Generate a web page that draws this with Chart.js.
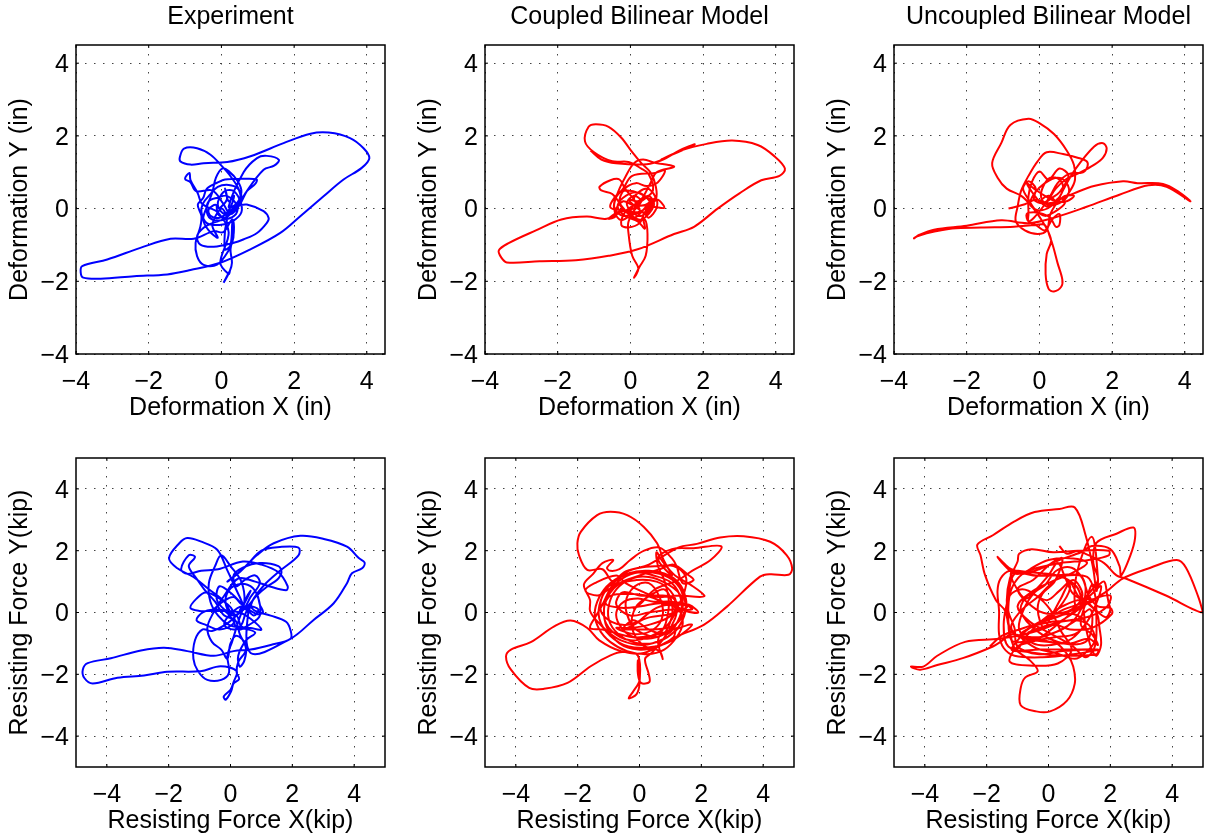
<!DOCTYPE html>
<html>
<head>
<meta charset="utf-8">
<title>Hysteresis panels</title>
<script src="https://cdn.jsdelivr.net/npm/chart.js@4"></script>
<style>
  html, body { margin: 0; padding: 0; background: #fff; overflow: hidden; }
  #wrap { position: relative; width: 1205px; height: 836px; overflow: hidden; }
  canvas { position: absolute; }
</style>
</head>
<body>
<div id="wrap"></div>
<script>
// [x, y] in axis units
var expDefPath = [[-.05,0],[.15,.25],[.1,.55],[.2,.2],[.35,.35],[.2,-.05],[-.05,-.25],[-.3,-.2],[-.35,-.02],[-.15,.1],[-.1,-.15],[.1,-.25],[.3,0],[.45,.15],[.4,-.15],[.1,-.3],[-.25,-.3],[-.4,-.1],[-.35,.2],[-.1,.3],[.15,.35],[.4,.1],[.1,-.15],[-.1,.1],[.05,.45],[.3,.5],[.5,.25],[.55,-.1],[.3,-.35],[-.05,-.45],[-.4,-.4],[-.55,-.1],[-.5,.15],[-.3,.4],[-.1,.6],[.2,.65],[.45,.55],[.55,.3],[.4,.1],[.7,.11],[1.16,-.07],[1.3,-.26],[1.25,-.39],[.98,-.67],[.6,-.85],[.34,-.94],[-.21,-1.05],[-.58,-.99],[-.67,-.76],[-.49,-.53],[-.25,-.4],[.05,-.3],[.3,-.1],[.5,.15],[.7,.48],[.93,.68],[.97,.8],[.6,.82],[.1,.8],[-.1,.72],[-.4,.55],[-.5,.3],[-.65,.1],[-.55,-.2],[-.58,-.5],[-.71,-.94],[-.67,-1.31],[-.49,-1.55],[-.12,-1.54],[.2,-1.15],[.33,-.8],[.3,-.4],[.25,-1],[.1,-1.12],[.1,-.6],[.15,-.25],[0,0],[-.25,-.45],[-.1,-.8],[-.35,-.6],[-.5,-.3],[-.4,.05],[-.25,.45],[-.15,.85],[.02,1.1],[.2,1.03],[.45,.75],[.55,.45],[.4,.12],[.2,.05],[.61,1],[.98,1.39],[1.25,1.45],[1.58,1.34],[1.45,1.18],[1.16,1.07],[.7,.48],[.5,.1],[.25,-.15],[.04,.15],[-.25,.5],[-.7,.48],[-.85,.72],[-1,.82],[-.88,.98],[-.85,.78],[-.65,.42],[-.55,.15],[-.4,.05],[-.1,-.1],[.2,-.65],[-.03,-1.49],[.2,-1.8],[.23,-1.72],[.06,-2.04],[.23,-1.72],[.29,-1.49],[.25,-1.12],[.34,-.67],[.3,-.3],[.05,-.65],[-.21,-.62],[-.76,-.83],[-1.4,-.83],[-2.23,-1.08],[-3.14,-1.4],[-3.83,-1.58],[-3.87,-1.76],[-3.8,-1.9],[-3.32,-1.93],[-2.4,-1.86],[-1.49,-1.81],[-.85,-1.69],[-.03,-1.49],[.8,-1.12],[1.62,-.67],[2.17,-.21],[2.81,.34],[3.36,.8],[3.86,1.12],[4.07,1.39],[3.91,1.66],[3.54,1.94],[2.95,2.09],[2.45,2.06],[1.71,1.8],[.8,1.44],[.16,1.28],[-.49,1.25],[-.85,1.21],[-1.13,1.3],[-1.14,1.43],[-1.03,1.65],[-.67,1.66],[-.3,1.48],[.02,1.16],[.25,.89],[.48,.52],[.52,.16],[.3,-.05]];

var coupledDefPath = [[.1,0],[.3,.2],[.1,.35],[-.1,.15],[.05,-.1],[.3,-.2],[.55,.05],[.45,.3],[.15,.45],[-.2,.3],[-.35,.05],[-.15,-.2],[.2,-.35],[.4,-.55],[.35,-.2],[.55,.1],[.7,.3],[.4,.1],[.1,.08],[-.15,-.1],[-.25,-.45],[-.05,-.52],[.25,-.4],[.4,-.1],[.72,.25],[.93,.02],[.55,.05],[.2,-.1],[-.1,-.05],[-.55,.03],[-.35,.4],[-.1,.5],[.25,.42],[.55,.2],[.4,.02],[.1,-.25],[-.2,.02],[-.5,.4],[-.8,.5],[-.85,.6],[-.55,.78],[-.3,.8],[-.15,.55],[.1,.25],[.25,0],[.1,.3],[.45,.55],[.7,.3],[.72,.02],[.5,-.25],[.35,-.1],[.1,-.15],[-.2,-.2],[-.4,-.05],[-.2,.2],[.1,.1],[.35,.3],[.6,.2],[.45,-.15],[.15,.05],[-.05,.25],[.2,.2],[.5,.35],[.65,.1],[.3,-.3],[-.05,-.15],[-.3,.15],[-.15,.55],[.15,.7],[.45,.62],[.75,.72],[.95,1.05],[.68,.98],[.05,.9],[-.2,.55],[-.4,.3],[-.45,0],[-.3,-.3],[-.1,-.25],[.05,.05],[.3,.25],[.55,.7],[.72,1],[1.2,1.15],[1.05,1.2],[.7,1.25],[.35,1.35],[.1,1.25],[-.15,.85],[-.3,.55],[-.45,.1],[-.4,-.2],[-.6,-.28],[-.35,-.1],[.08,0],[.3,.2],[.62,.5],[.5,.95],[.3,1.1],[-.05,1.28],[-.5,1.3],[-1,1.55],[-1.25,1.85],[-1.15,2.25],[-.95,2.32],[-.6,2.25],[-.25,1.95],[.05,1.55],[.3,1.25],[.55,1],[.7,.6],[.7,.25],[.5,.1],[.2,.05],[-.05,-.35],[-.05,-.7],[.05,-1.3],[.22,-1.65],[.1,-1.9],[.24,-1.62],[.42,-1.3],[.47,-.7],[.4,-.3],[.2,-.35],[-.1,-.05],[-.65,-.28],[-1.2,-.22],[-1.9,-.3],[-2.6,-.6],[-3.35,-.95],[-3.62,-1.15],[-3.55,-1.35],[-3.4,-1.48],[-2.5,-1.45],[-1.5,-1.42],[-.6,-1.3],[.2,-1.12],[1.2,-.7],[1.75,-.5],[2.4,0],[3,.42],[3.6,.78],[4.1,.9],[4.25,1.1],[3.95,1.45],[3.5,1.75],[2.8,1.87],[2.1,1.78],[1.4,1.6],[.85,1.35],[1.3,1.55],[1.77,1.77],[1.35,1.6],[.9,1.35],[.45,1.22],[-.4,1.25],[-.8,1.35],[-1.1,1.6]];

var uncoupledDefPath = [[-.85,0],[-.4,.12],[-.1,.25],[.2,.15],[.5,.2],[.7,.35],[.95,.35],[.75,.2],[.45,.2],[.15,.35],[-.15,.55],[-.35,.7],[-.2,.45],[0,.2],[.25,.05],[.5,.25],[.65,.55],[.55,.8],[.3,.85],[.1,.6],[.05,.3],[.25,.1],[.55,.15],[.8,.4],[.75,.7],[.5,.85],[.15,.7],[-.15,.4],[-.25,.1],[0,-.05],[.3,.05],[.55,.3],[.7,.15],[.4,-.1],[.15,-.2],[-.1,-.05],[-.3,.25],[-.45,.55],[-.3,.75],[-.1,.55],[-.15,.25],[.1,.15],[.35,.3],[.55,.45],[.8,.9],[.55,1.1],[.25,.8],[0,1.02],[-.2,.75],[-.3,.35],[-.3,-.15],[-.3,-.35],[-.1,-.45],[.15,-.6],[.35,-.3],[.55,-.15],[.55,-.45],[.45,-.5],[.3,-.25],[.1,-.15],[-.15,-.1],[-.35,-.15],[-.3,-.35],[-.15,-.25],[.1,.05],[.3,.35],[.5,.7],[.8,.95],[1.2,1],[1.32,1.15],[1.3,1.3],[1.05,1.4],[.65,1.5],[.2,1.55],[-.05,1.3],[-.3,.9],[-.5,.5],[-.6,.05],[-.65,-.35],[-.4,-.6],[-.05,-.7],[.2,-.6],[.3,-.15],[.5,.2],[.7,.6],[1,1.1],[1.5,1.7],[1.75,1.8],[1.85,1.65],[1.75,1.4],[1.5,1.2],[1.1,.98],[.75,.82],[.45,.55],[.2,.2],[0,.18],[.25,.35],[.55,.15],[.85,.5],[.98,.8],[.95,1.2],[.75,1.6],[.4,2.05],[0,2.35],[-.3,2.47],[-.8,2.3],[-1.05,1.8],[-1.3,1.25],[-1.15,.85],[-.9,.55],[-.5,.35],[-.2,.05],[.05,-.3],[.25,-.65],[.32,-.9],[.2,-1.25],[.17,-1.8],[.25,-2.2],[.4,-2.28],[.6,-2.15],[.63,-1.95],[.5,-1.5],[.38,-1.05],[.28,-.75],[.15,-.45],[-.1,-.45],[-.7,-.5],[-1.6,-.52],[-2.4,-.55],[-3.1,-.68],[-3.4,-.78],[-3.45,-.82],[-3.3,-.72],[-2.9,-.58],[-2,-.47],[-1.05,-.32],[-.3,-.4],[.4,-.25],[1.3,.05],[2.2,.38],[3,.64],[3.5,.6],[4.15,.2],[3.85,.45],[3.4,.68],[2.7,.7],[2.3,.75],[1.5,.62],[.95,.42],[.55,.25],[.3,.1],[.1,.2]];

var expForcePath = [[-.55,.1],[-.25,.35],[.1,.5],[.4,.25],[.55,.55],[.65,.7],[.45,.3],[.3,.05],[.6,.2],[.9,.1],[.75,-.1],[.4,.2],[0,-.05],[-.2,-.4],[.1,-.55],[.35,-.4],[.5,0],[.85,.55],[.95,.25],[1.05,0],[.85,-.05],[.45,.2],[.05,.6],[-.35,.85],[-.45,.45],[-.2,.1],[.2,-.1],[.35,-.45],[.65,-.5],[1,-.55],[.65,-.2],[.3,0],[-.1,.05],[-.65,.05],[-1,.05],[-1.3,.15],[-1.1,.45],[-.8,.65],[-.35,.45],[.05,.1],[.1,-.35],[-.35,-.55],[-.8,-.4],[-1.1,-.25],[-.9,0],[-.55,.1],[-.2,.05],[.05,-.2],[.25,-.55],[.6,-.4],[.95,-.1],[.85,.6],[.55,.9],[.1,.85],[-.15,.5],[-.1,.1],[.1,-.1],[.45,.15],[.65,.5],[.95,.95],[.8,1.2],[.45,1.05],[.2,.85],[.1,1.2],[.4,1.45],[.95,1.6],[1.55,1.5],[1.65,1.3],[1.5,1.05],[1.2,.85],[.85,.55],[.6,.25],[.25,-.05],[-.1,-.35],[-.6,-.6],[-.9,-.55],[-1.15,-.9],[-1.2,-1.5],[-1.05,-1.9],[-.75,-2.18],[-.3,-2.18],[-.05,-1.95],[-.1,-1.4],[.05,-.95],[.25,-.3],[.45,.35],[.35,1],[0,1.5],[-.3,1.85],[-.5,1.5],[-.7,.95],[-.65,.35],[-.4,-.1],[-.05,-.4],[.35,-.5],[.8,-.65],[.5,-.9],[.25,-1.4],[.3,-1.75],[.45,-1.55],[.5,-1.05],[.2,-.75],[0,-1],[-.1,-1.5],[-.3,-1.2],[-.6,-.95],[-.75,-.5],[-.55,0],[-.2,.55],[.25,1.1],[.8,1],[1.25,.85],[1.8,.72],[1.85,.85],[1.55,1.3],[1,1.55],[.4,1.65],[-.4,1.4],[-.95,1.35],[-1.4,1.25],[-1.6,1.4],[-1.35,1.85],[-1.15,1.8],[-1.35,1.5],[-1.1,1.1],[-.85,.75],[-.5,.35],[-.2,-.1],[.15,-.25],[.3,-.7],[.5,-1.2],[.25,-1.6],[.2,-1.95],[.28,-2.15],[.1,-2.3],[.02,-2.55],[-.15,-2.82],[-.22,-2.72],[0,-2.5],[.1,-2.25],[.2,-1.9],[-.32,-1.74],[-.97,-1.9],[-2.05,-1.92],[-2.8,-2.04],[-3.66,-2.11],[-4.46,-2.3],[-4.73,-2.12],[-4.78,-1.85],[-4.62,-1.64],[-3.87,-1.48],[-2.9,-1.23],[-2.15,-1.14],[-1.4,-1.25],[-.54,-1.4],[.1,-1.25],[.65,-1.2],[1.3,-1.05],[1.94,-.85],[1.95,-.6],[1.8,-.3],[1.3,-.1],[.8,.05],[.6,.2],[.65,-1.31],[1.94,-.85],[2.69,-.24],[3.34,.3],[3.77,.95],[3.93,1.27],[4.26,1.43],[4.34,1.62],[4.15,1.76],[3.77,2.13],[3.02,2.38],[2.26,2.48],[1.4,2.24],[.86,1.86],[.32,1.33],[-.1,1],[.5,1.5],[1,2],[1.6,2.12],[2.2,2.1],[2.2,1.85],[1.6,1.35],[1.1,.9],[.75,.45],[.55,.05],[.3,.5],[-.11,1.38],[-.43,2.03],[-.97,2.3],[-1.4,2.41],[-1.65,2.25],[-1.99,1.76],[-1.72,1.43],[-1.2,1.15],[-.7,.75],[-.2,.35],[0,0]];

var coupledForcePath = [[-.55,-.55],[.9,-.5],[1.35,-.2],[1.5,.3],[1.35,.85],[.95,1.2],[.3,1.35],[-.4,1.25],[-.95,.95],[-1.3,.5],[-1.45,-.05],[-1.3,-.55],[-.95,-.95],[-.4,-1.25],[.25,-1.35],[.8,-1.2],[1.2,-.8],[1.4,-.35],[1.25,.1],[.7,.3],[.05,.2],[-.6,.15],[-1.1,.3],[-.7,.9],[-.1,1.05],[.55,1],[1,.7],[1.2,.2],[.95,-.35],[.4,-.75],[-.3,-.9],[-.9,-.6],[-1.15,-.1],[-1,.5],[-.5,.6],[.2,.55],[.9,.3],[1.55,.2],[1,-.05],[.35,-.15],[-.4,-.4],[-.9,-.3],[-1.25,.05],[-1.15,.65],[-.75,1.05],[-.2,1.3],[.45,1.2],[1.05,.95],[1.35,.4],[1.3,-.15],[.9,-.7],[.3,-.55],[-.2,-.25],[-.55,-.55],[-.1,-.35],[.2,-.1],[.55,.15],[1,.25],[1.5,.05],[1.9,0],[1.6,.25],[1,.35],[.45,.35],[-.05,.45],[-.5,.35],[-.75,0],[-.65,-.4],[-.3,-.75],[.25,-.85],[.8,-.7],[1.2,-.35],[1.4,.15],[1.3,.6],[.85,.95],[.3,1.15],[-.25,1.1],[-.75,.75],[-1,.2],[-.95,-.35],[-.55,-.8],[0,-1],[.6,-.95],[1.15,-.6],[1.45,-.1],[1.5,.45],[1.2,.95],[.65,1.25],[0,1.3],[-.55,1.1],[-1,.65],[-1.15,.1],[-1.05,-.5],[-.65,-1],[-.05,-1.2],[.6,-1.1],[1.1,-.8],[1.2,-.55],[1.7,-.4],[1.15,-.85],[.5,-1.1],[-.35,-1.1],[-.95,-.75],[-1.3,-.2],[-1.25,.4],[-.9,.95],[-.4,1.25],[.25,1.35],[.85,1.2],[1.3,.8],[1.5,.3],[1.7,.1],[1.05,.1],[.3,0],[-.3,-.1],[-.75,.25],[-.55,.65],[0,.55],[.6,.55],[1.05,.5],[1.2,.2],[.95,-.15],[.3,-.4],[-.3,-.5],[-.75,-.5],[-.15,-.7],[.45,-.55],[.75,-.1],[.65,.5],[.3,.95],[-.15,.85],[-.45,.3],[-.25,-.4],[.15,-.7],[.7,-.75],[1,-.3],[1.05,.3],[.8,.75],[.35,.55],[-.1,.2],[-.25,-.45],[.1,-1.05],[.65,-1.25],[.75,-1.5],[.6,-.9],[.85,-.35],[.95,.35],[.8,1.05],[.6,1.5],[.55,1.95],[.75,1.65],[1.15,1.2],[1.65,.9],[2.1,.55],[1.95,.5],[1.3,.55],[.6,.5],[.15,.65],[-.45,.95],[-.75,1.2],[-1.45,.95],[-1.75,.7],[-1.35,.55],[-1,.75],[-.55,1],[0,1.2],[.65,1.4],[1.1,1.55],[1.6,1.2],[1.75,1.05],[1.4,.95],[1.2,1.5],[1.05,1.75],[.65,2.1],[.15,2],[-.3,1.7],[-.65,1.4],[-.95,1.35],[-1.05,1.45],[-.85,1.7],[-1.2,1.6],[-1.5,1.25],[-1.8,.9],[-1.6,.4],[-1.6,.05],[-1.4,-.25],[-1.05,-.6],[-.6,-.9],[.1,-1.05],[.8,-.85],[1.25,-.5],[.95,-.6],[.4,-.75],[-.2,-.8],[-1.2,-.55],[-1.6,-.5],[-1.4,-.1],[-1.2,.25],[-.9,.85],[-.5,1.3],[0,1.45],[.5,1.5],[1.1,1.5],[1.5,1.15],[1.45,.65],[1.25,.2],[1.15,-.2],[.85,-.75],[.4,-1.3],[.18,-1.5],[.3,-2],[.32,-2.25],[.05,-2.28],[-.05,-2],[-.05,-1.55],[0,-2.2],[-.2,-2.55],[-.35,-2.78],[-.1,-2.65],[0,-2.3],[-.05,-1.4],[-.55,-1.28],[-.94,-1.39],[-1.58,-1.74],[-2.33,-2.28],[-3.09,-2.47],[-3.57,-2.44],[-4.16,-1.85],[-4.32,-1.42],[-4.16,-1.2],[-3.52,-.96],[-2.76,-.45],[-2.23,-.26],[-1.69,-.5],[-1.3,-.9],[-.6,-1.25],[.14,-1.31],[1.22,-.77],[2.08,-.4],[2.83,.19],[3.9,1.16],[4.23,1.24],[4.82,1.22],[4.94,1.43],[4.76,1.86],[4.23,2.29],[3.37,2.47],[2.61,2.43],[1.86,2.22],[1.25,2.1],[.3,1.55],[-.35,1.35],[-.85,1],[-1.2,1.4],[-1.69,1.38],[-1.96,1.86],[-2.01,2.24],[-1.9,2.61],[-1.37,3.15],[-.94,3.26],[-.4,3.15],[.14,2.77],[.57,2.24],[.78,1.7],[1.05,1.2],[.6,1.75],[1.05,2.05],[1.75,2.08],[2.65,2.14],[2.3,1.7],[1.7,1.35],[1.25,1.05],[.5,.75],[.05,.3],[-.2,.1]];

var uncoupledForcePath = [[-1.9,-1.1],[-1.5,-.75],[-.8,-.5],[-.2,-.3],[.4,-.1],[1,.2],[1.5,.45],[2,.55],[1.9,.2],[1.4,-.1],[.7,-.25],[.1,-.3],[-.6,-.5],[-1,-.9],[-1.2,-1.2],[-1,-1.25],[-.3,-1.2],[.6,-1.2],[1.6,-1.22],[1.55,-1.35],[.5,-1.4],[-.5,-1.3],[-1.3,-1.1],[-1.45,-.4],[-1.3,.5],[-1.1,1.25],[-.4,1.2],[.4,1.2],[1.25,1.15],[1.5,.6],[1.55,-.2],[1.5,-1.1],[1.2,-1.45],[.8,-1.1],[.1,-.7],[-.6,-.3],[-1,.2],[-.5,.7],[.1,1],[.8,1.3],[1.25,1.6],[.8,1.75],[0,1.7],[-.6,1.4],[-1,1.1],[-1.25,.6],[-1.3,-.2],[-1.2,-.9],[-.8,-.95],[.2,-.8],[.85,-.7],[1.2,-.35],[.8,-.05],[.2,-.15],[-.3,-.35],[-.9,-.7],[-.3,-.8],[.3,-.6],[.9,-.25],[1.35,.1],[1.4,-.5],[1.2,-.95],[.5,-1],[-.3,-.65],[-.9,.05],[-.6,.6],[-.05,.4],[.35,.7],[.8,1.05],[1.1,.55],[.75,.1],[.1,-.05],[-.4,.1],[-1,.75],[-.5,1.05],[.1,1.6],[.45,1.75],[.2,1],[-.2,.6],[-.35,.1],[-.15,-.5],[.1,-.1],[.4,.45],[.7,.95],[1,.5],[1.5,.4],[1.05,.2],[.4,-.3],[-.4,-.9],[-1,-1.1],[-1.25,-1.6],[-.5,-1.72],[.3,-1.65],[.75,-1.2],[.4,-.6],[.05,.1],[-.4,.55],[-.85,.75],[-1.25,.55],[-1.3,.05],[-1.1,-.5],[-1,-1.1],[-.3,-1.35],[.45,-1.25],[1.6,-1.2],[.8,-1.35],[-.2,-1.45],[-1.1,-1.4],[-1.45,-1.15],[-1.6,-.7],[-1.6,.05],[-1.65,.7],[-1.55,1.1],[-1.25,1.35],[-.6,1.3],[.3,1.2],[.9,.85],[1.1,.3],[1.2,-.45],[1.4,-1.2],[1.55,-1.4],[1.7,-1.05],[1.65,-.5],[1.55,0],[1.1,.4],[.45,.2],[-.2,-.25],[-.7,-.75],[-1.05,-1.2],[-1.25,-.6],[-1.35,.4],[-1.25,1.1],[-1,1.65],[-.95,1.9],[-.55,2.05],[.15,1.95],[.95,2],[1.95,2],[1.95,1.85],[1.3,1.7],[.4,1.6],[-.35,1.45],[-1.05,1.25],[-1.45,1.55],[-1.65,1.8],[-1.45,1.6],[-1.2,1.4],[-.5,1.2],[.2,1.2],[1,1.2],[1.2,.8],[1.05,.1],[.6,-.45],[-.1,-.75],[-.7,-.85],[-1.1,-.7],[-1.2,-.4],[-.85,.1],[-.35,.5],[.05,.9],[.45,1.15],[.7,.8],[.3,.1],[-.1,-.2],[-.55,-.45],[-.1,-.25],[.5,.1],[1.05,.3],[1.4,.6],[1.7,.85],[1.55,.3],[1.25,-.3],[.75,-.85],[.1,-1.05],[-.5,-1],[-.95,-.55],[-.8,.1],[-.45,.65],[-.1,.9],[.25,1.35],[.75,1.45],[1.1,1.1],[1.3,.55],[1.6,.2],[2,.15],[2.05,-.05],[1.4,-.5],[.7,-.55],[.2,-.4],[-.65,-.65],[-.15,-.45],[.75,-.25],[1.3,-.4],[1.5,-.9],[1.2,-1.3],[.85,-1.5],[.2,-1.3],[-.4,-1.15],[-.95,-.75],[-.7,-.85],[-.05,-.95],[.7,-1],[1.3,-.85],[1.6,-1.05],[1.4,-.7],[1.05,-.4],[1.2,.3],[1.4,.9],[1.55,.85],[1.8,1],[1.9,.55],[1.95,.3],[2,.1],[1.85,-.15],[1.5,.1],[1.2,.35],[.8,.6],[.55,1.1],[.3,1.6],[0,1.2],[-.4,.75],[-.75,.45],[-1.15,1],[-1.2,1.3],[-.8,1.25],[-.3,1.4],[.35,1.7],[1.05,1.95],[1.4,2.15],[2,2.05],[2.3,1.5],[2.35,1.2],[2.65,1.85],[2.8,2.4],[2.75,2.75],[2.2,2.55],[1.55,2.25],[1.45,1.6],[1.6,1.05],[1.25,.55],[.9,.1],[.9,1.2],[1.4,2.45],[1.6,1.1],[1.55,.7],[1.45,1.4],[1.2,2.5],[.85,3.4],[.35,3.35],[-.45,3.25],[-1.1,2.95],[-1.8,2.5],[-2.3,2.2],[-2.2,1.85],[-2.05,1.2],[-1.7,.4],[-1.4,.05],[-1.3,-.4],[-1.1,-1.15],[-.6,-1.55],[-.35,-1.9],[-.75,-2.1],[-.9,-2.45],[-.9,-3],[-.4,-3.2],[.05,-3.2],[.6,-2.85],[.85,-2.3],[.8,-1.75],[.6,-1.35],[.25,-1],[-.6,-.85],[-1.2,-.7],[-1.55,-.95],[-1.8,-1.1],[-2.75,-1.47],[-3.6,-1.7],[-4.15,-1.85],[-4.45,-1.75],[-4.05,-1.75],[-3.6,-1.4],[-2.7,-.95],[-1.6,-.85],[-.55,-.65],[.35,-.3],[1.35,.35],[1.9,.7],[2.4,1.1],[3.3,1.45],[4.15,1.7],[4.45,1.45],[4.85,.5],[5,0],[3.8,.55],[2.5,1.1],[2.2,1.2],[1.8,1.6],[1.2,1.9],[.95,2],[.6,1.9],[.35,2.15]];

var defTicks = [-4, -2, 0, 2, 4];
var forceTicks = [-4, -2, 0, 2, 4];

var columnTitles = ["Experiment", "Coupled Bilinear Model", "Uncoupled Bilinear Model"];
var columnLeft = [0, 409, 818];

// MATLAB style box round the axes, with the small inward ticks
var boxPlugin = {
  id: "box",
  afterDraw: function (chart) {
    var ctx = chart.ctx, a = chart.chartArea;
    ctx.save();
    ctx.strokeStyle = "#000";
    ctx.lineWidth = 1.5;
    ctx.strokeRect(a.left, a.top, a.right - a.left, a.bottom - a.top);
    ctx.lineWidth = 1;
    ctx.beginPath();
    chart.scales.x.ticks.forEach(function (t) {
      var px = chart.scales.x.getPixelForValue(t.value);
      ctx.moveTo(px, a.bottom); ctx.lineTo(px, a.bottom - 3);
      ctx.moveTo(px, a.top); ctx.lineTo(px, a.top + 3);
    });
    chart.scales.y.ticks.forEach(function (t) {
      var py = chart.scales.y.getPixelForValue(t.value);
      ctx.moveTo(a.left, py); ctx.lineTo(a.left + 3, py);
      ctx.moveTo(a.right, py); ctx.lineTo(a.right - 3, py);
    });
    ctx.stroke();
    ctx.restore();
  }
};

function tickText(v) {
  return v < 0 ? "\u2212" + Math.abs(v) : "" + v;
}

function axis(min, max, tickValues, label, isY) {
  return {
    type: "linear",
    min: min,
    max: max,
    afterBuildTicks: function (scale) {
      scale.ticks = tickValues.map(function (v) { return { value: v }; });
    },
    afterFit: function (scale) {
      if (isY) { scale.width = 76; } else { scale.height = 69; }
    },
    border: { display: false, dash: [1.5, 7.5] },
    grid: { color: "#444", lineWidth: 1, drawTicks: false },
    ticks: {
      autoSkip: false,
      maxRotation: 0,
      padding: isY ? 7 : 13,
      labelOffset: isY ? 2 : 0,
      color: "#000",
      font: { family: "Liberation Sans", size: 25 },
      callback: tickText
    },
    title: {
      display: true,
      text: label,
      color: "#000",
      font: { family: "Liberation Sans", size: 25 },
      padding: isY ? { top: 5 } : { bottom: 0 }
    }
  };
}

function addPanel(col, top, path, color, xRange, yRange, ticks, xLabel, yLabel, heading) {
  var canvas = document.createElement("canvas");
  canvas.width = 390;
  canvas.height = 423.5;
  canvas.style.left = columnLeft[col] + "px";
  canvas.style.top = top + "px";
  document.getElementById("wrap").appendChild(canvas);

  new Chart(canvas.getContext("2d"), {
    type: "scatter",
    data: {
      datasets: [{
        data: path.map(function (p) { return { x: p[0], y: p[1] }; }),
        showLine: true,
        borderColor: color,
        borderWidth: 2,
        pointRadius: 0,
        tension: 0.35
      }]
    },
    options: {
      responsive: false,
      animation: false,
      devicePixelRatio: 1,
      layout: { autoPadding: false, padding: { top: heading ? 0 : 45, right: 5, left: 0, bottom: 0 } },
      plugins: {
        legend: { display: false },
        tooltip: { enabled: false },
        title: {
          display: !!heading,
          text: heading,
          fullSize: false,
          color: "#000",
          font: { family: "Liberation Sans", size: 25, weight: "normal" },
          padding: { top: 2.5, bottom: 12.5 }
        }
      },
      scales: {
        x: axis(xRange[0], xRange[1], ticks, xLabel, false),
        y: axis(yRange[0], yRange[1], ticks, yLabel, true)
      }
    },
    plugins: [boxPlugin]
  });
}

var defX = "Deformation X (in)", defY = "Deformation Y (in)";
var forceX = "Resisting Force X(kip)", forceY = "Resisting Force Y(kip)";

addPanel(0, 0, expDefPath, "#0000ff", [-4, 4.5], [-4, 4.5], defTicks, defX, defY, columnTitles[0]);
addPanel(1, 0, coupledDefPath, "#ff0000", [-4, 4.5], [-4, 4.5], defTicks, defX, defY, columnTitles[1]);
addPanel(2, 0, uncoupledDefPath, "#ff0000", [-4, 4.5], [-4, 4.5], defTicks, defX, defY, columnTitles[2]);
addPanel(0, 413, expForcePath, "#0000ff", [-5, 5], [-5, 5], forceTicks, forceX, forceY);
addPanel(1, 413, coupledForcePath, "#ff0000", [-5, 5], [-5, 5], forceTicks, forceX, forceY);
addPanel(2, 413, uncoupledForcePath, "#ff0000", [-5, 5], [-5, 5], forceTicks, forceX, forceY);
</script>
</body>
</html>
